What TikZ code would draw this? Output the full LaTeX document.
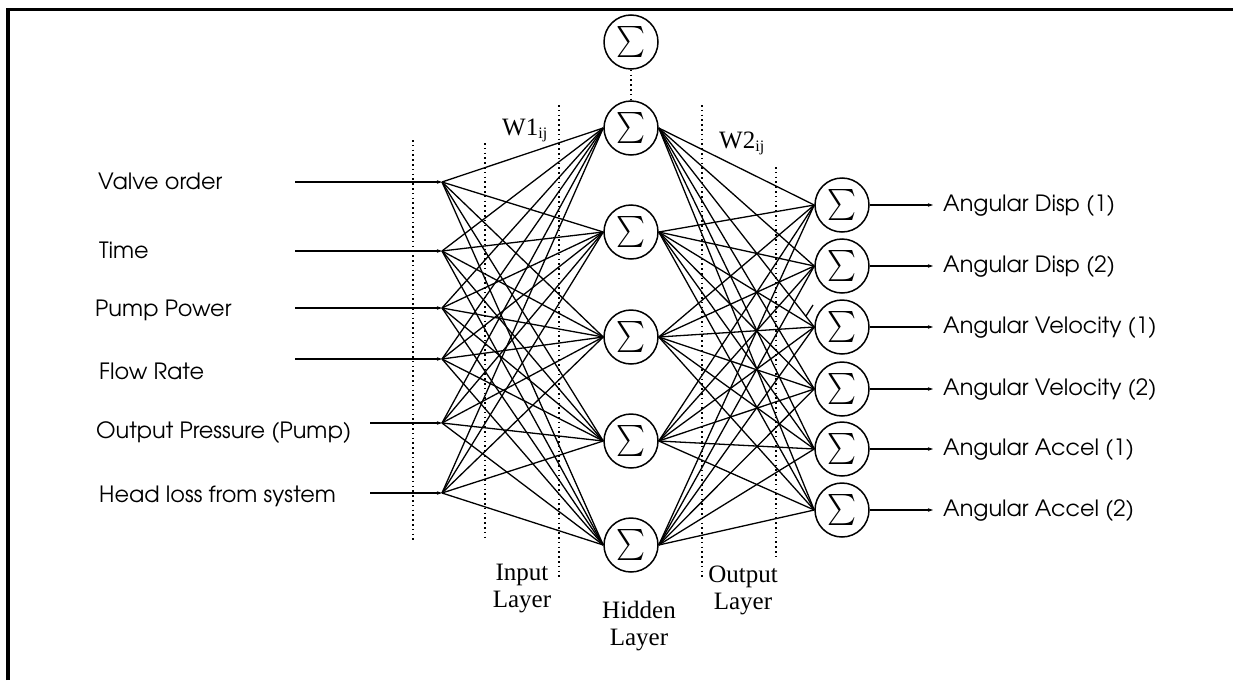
\documentclass[tikz,border=0pt]{standalone}
\usepackage{fontspec}
\setmainfont{TeX Gyre Adventor}
\newfontfamily\tnr{Liberation Serif}
\usetikzlibrary{arrows.meta}
\newcommand{\mysig}{\scalebox{2.75}[3.1]{$\sum$}}
\begin{document}
\begin{tikzpicture}[x=1pt,y=-1pt,
  neuron/.style={circle,draw,line width=1.5pt,minimum size=54pt,inner sep=0pt},
  conn/.style={line width=1.3pt},
  dotsep/.style={line width=1.6pt,dash pattern=on 1.6pt off 3.2pt},
  feed/.style={line width=1.3pt,-{Stealth[length=5pt,width=3.5pt]}},
  lab/.style={anchor=base west,inner sep=0pt,font=\fontsize{22.4}{25}\selectfont},
  ser/.style={font=\tnr\fontsize{25}{27}\selectfont,align=center,inner sep=0pt},
  frame/.style={line width=3.5pt}
]
\useasboundingbox (0,0) rectangle (1233,680);
% frame
\coordinate (fa) at (8,680);
\coordinate (fb) at (8,9.5);
\coordinate (fc) at (1233,9.5);
\draw[frame] (fa) -- (fb) -- (fc);

% hidden layer
\node[neuron] (h0) at (631,42) {\mysig};
\foreach \i/\y in {1/128,2/232,3/337,4/441,5/545}
  \node[neuron] (h\i) at (631,\y) {\mysig};
\draw[dotsep] (h0.south) -- (h1.north);

% output layer
\foreach \k/\y in {1/205,2/266,3/327,4/389,5/449,6/510}
  \node[neuron] (o\k) at (842,\y) {\mysig};

% inputs
\foreach \i/\y/\sx in {1/182/295,2/251/295,3/308/295,4/359/295,5/423/370,6/493/370}{
  \coordinate (in\i) at (442,\y);
  \coordinate (s\i) at (\sx,\y);
  \draw[feed] (s\i) -- (in\i);
}

% dotted separators
\foreach \n/\x/\ya/\yb in {1/413/140/540,2/485/143/537,3/559/105/580,4/702/105/580,5/776/167/560}{
  \coordinate (d\n t) at (\x,\ya);
  \coordinate (d\n b) at (\x,\yb);
  \draw[dotsep] (d\n t) -- (d\n b);
}

% weights input -> hidden
\foreach \i in {1,...,6}
  \foreach \j in {1,...,5}
    \draw[conn] (in\i) -- (h\j.west);
% weights hidden -> output
\foreach \j in {1,...,5}
  \foreach \k in {1,...,6}
    \draw[conn] (h\j.east) -- (o\k.west);

% stray tick
\coordinate (tk1) at (806,316);
\coordinate (tk2) at (813,305);
\draw[conn] (tk1) -- (tk2);

% outputs
\foreach \k/\y/\t in {1/205/Angular Disp (1),2/266/Angular Disp (2),3/327/Angular Velocity (1),4/389/Angular Velocity (2),5/449/Angular Accel (1),6/510/Angular Accel (2)}{
  \coordinate (e\k) at (933,\y);
  \draw[feed] (o\k.east) -- (e\k);
  \node[lab] (t\k) at (943,\y+6) {\t};
}

% input labels
\node[lab] (l1) at (98,189) {Valve order};
\node[lab] (l2) at (99,258) {Time};
\node[lab] (l3) at (95,316) {Pump Power};
\node[lab] (l4) at (99,379) {Flow Rate};
\node[lab] (l5) at (96,438) {Output Pressure (Pump)};
\node[lab] (l6) at (99,502) {Head loss from system};

% serif labels
\node[ser,anchor=base west] (w1) at (502,135) {W1{\fontsize{16}{16}\selectfont\raisebox{-3pt}{ij}}};
\node[ser,anchor=base west] (w2) at (719,148) {W2{\fontsize{16}{16}\selectfont\raisebox{-3pt}{ij}}};
\node[ser,anchor=north] (il) at (522,564) {Input\\Layer};
\node[ser,anchor=north] (ol) at (743,566) {Output\\Layer};
\node[ser,anchor=north] (hl) at (639,601) {Hidden\\Layer};
\end{tikzpicture}
\end{document}
